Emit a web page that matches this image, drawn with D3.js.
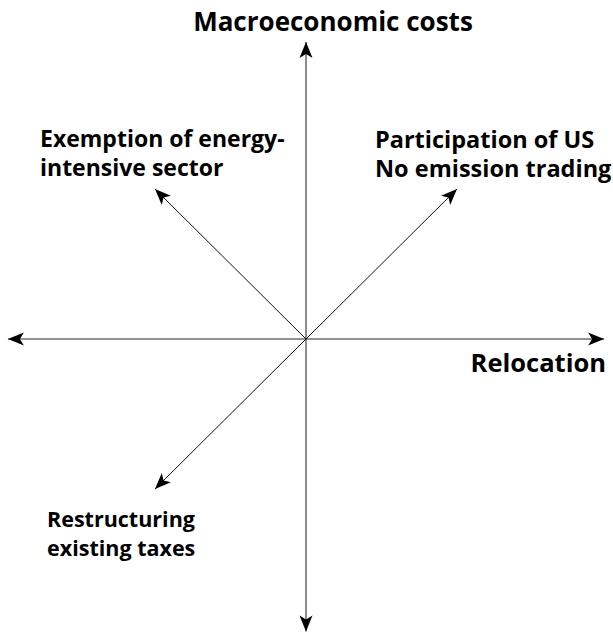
<!DOCTYPE html>
<html><head><meta charset="utf-8">
<script src="https://cdn.jsdelivr.net/npm/d3@7"></script>
<style>body{margin:0;background:#fff}svg{display:block}</style>
</head><body>
<script>
// Axes (data units, origin at 0,0)
const axisEnds = [
  {name:"up", x:0, y:1},
  {name:"down", x:0, y:-0.985},
  {name:"left", x:-0.997, y:0},
  {name:"right", x:0.997, y:0}
];
// Diagonal effect arrows
const effects = ["Participation of US / No emission trading", "Exemption of energy-intensive sector", "Restructuring existing taxes"];
const effectX = [0.505, -0.505, -0.505];
const effectY = [0.505, 0.505, -0.505];
// Labels
const axisLabels = ["Macroeconomic costs", "Relocation"];
const effectLabels = [["Participation of US","No emission trading"],["Exemption of energy-","intensive sector"],["Restructuring","existing taxes"]];

const W=613,H=633;
const svg=d3.select("body").append("svg").attr("width",W).attr("height",H);
const x=d3.scaleLinear().domain([-1,1]).range([7,605]);
const y=d3.scaleLinear().domain([-1,1]).range([636,42]);

const defs=svg.append("defs");
defs.append("marker").attr("id","ah").attr("viewBox","-18 -8 20 16")
  .attr("refX",0).attr("refY",0).attr("markerWidth",20).attr("markerHeight",16)
  .attr("markerUnits","userSpaceOnUse").attr("orient","auto")
  .append("path").attr("d","M0,0 L-16,-6.5 L-12,0 L-16,6.5 Z").attr("fill","#000");

svg.selectAll("line.axis").data(axisEnds).join("line").attr("class","axis")
  .attr("x1",x(0)).attr("y1",y(0)).attr("x2",d=>x(d.x)).attr("y2",d=>y(d.y))
  .attr("stroke","#6e6e6e").attr("stroke-width",1.6).attr("marker-end","url(#ah)");

svg.selectAll("line.eff").data(effects).join("line").attr("class","eff")
  .attr("x1",x(0)).attr("y1",y(0)).attr("x2",(d,i)=>x(effectX[i])).attr("y2",(d,i)=>y(effectY[i]))
  .attr("stroke","#111").attr("stroke-width",1).attr("marker-end","url(#ah)");

const font="'Open Sans', sans-serif";
svg.append("text").attr("x",333).attr("y",31).attr("text-anchor","middle")
  .attr("font-family",font).attr("font-weight",700).attr("font-size",26).text(axisLabels[0]);
svg.append("text").attr("x",606).attr("y",372).attr("text-anchor","end")
  .attr("font-family",font).attr("font-weight",700).attr("font-size",25.5).text(axisLabels[1]);

const labPos=[{x:375,y:148,s:23.5},{x:40,y:147,s:23},{x:47,y:527,s:21.5}];
effectLabels.forEach((lines,i)=>{
  const t=svg.append("text").attr("font-family",font).attr("font-weight",700).attr("font-size",labPos[i].s);
  lines.forEach((l,j)=>t.append("tspan").attr("x",labPos[i].x).attr("y",labPos[i].y+j*28.5).text(l));
});
</script>
</body></html>
